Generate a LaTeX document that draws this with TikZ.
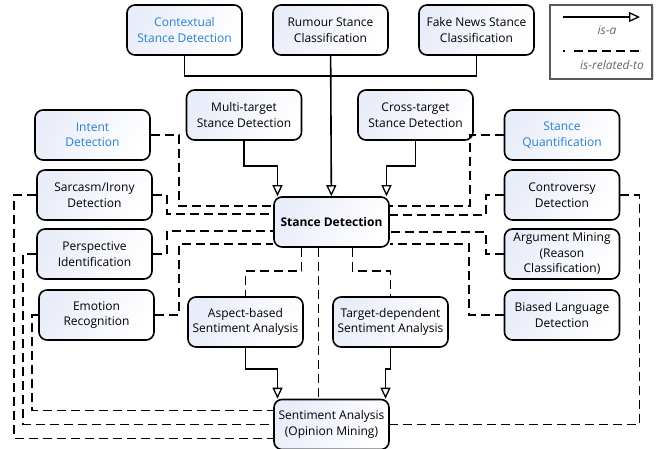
\documentclass[tikz,border=0pt]{standalone}
\usepackage{fontspec}
\setmainfont{Open Sans}
\usetikzlibrary{positioning,arrows.meta,calc,shadows}
\definecolor{taskblue}{RGB}{40,128,205}
\definecolor{boxfill}{RGB}{233,237,249}
\tikzset{every picture/.style={x=1pt,y=-1pt,line width=1.6pt}}
\tikzset{task/.style={draw,rounded corners=8pt,minimum width=115pt,minimum height=50pt,
    inner sep=1pt,align=center,font=\fontsize{12}{15.5}\selectfont,
    left color=boxfill,right color=white,shading angle=60}}
\tikzset{is a/.style={-{Triangle[open,length=11pt,width=10pt,line width=1.3pt]}}}
\tikzset{related/.style={dash pattern=on 9pt off 5pt}}
\tikzset{legend text/.style={text=black!60,font=\fontsize{12}{13}\selectfont\itshape}}

\begin{document}
\begin{tikzpicture}
  \useasboundingbox (0,0) rectangle (656,449);
  % top row
  \node[task,text=taskblue] (ctx) at (184.5,30) {Contextual\\Stance Detection};
  \node[task] (rumour) at (330.5,30) {Rumour Stance\\Classification};
  \node[task] (fakenews) at (476.5,30) {Fake News Stance\\Classification};
  % legend
  \node[draw=black!65,line width=1.6pt,fill=white,minimum width=102pt,minimum height=74pt,
    drop shadow={shadow xshift=1.5pt,shadow yshift=-1.5pt,opacity=0.25}] (legend) at (601,42) {};
  \coordinate (isaA) at (563,17);
  \coordinate (isaB) at (640,17);
  \draw[is a,line width=1.3pt] (isaA) -- (isaB);
  \node[legend text] (isalabel) at (607,30) {is-a};
  \coordinate (relA) at (563,51);
  \coordinate (relB) at (640,51);
  \draw[line width=1.3pt,dash pattern=on 1.5pt off 9pt on 9pt off 5pt on 9pt off 5pt on 9pt off 5pt on 9pt off 5pt on 9pt] (relA) -- (relB);
  \node[legend text] (rellabel) at (612,65) {is-related-to};
  % middle
  \node[task] (multi) at (244,115) {Multi-target\\Stance Detection};
  \node[task] (cross) at (415.5,115) {Cross-target\\Stance Detection};
  \node[task,text=taskblue] (intent) at (92.5,135) {Intent\\Detection};
  \node[task,text=taskblue] (quant) at (562,135) {Stance\\Quantification};
  \node[task] (sarcasm) at (94.5,195) {Sarcasm/Irony\\Detection};
  \node[task] (controv) at (562,195) {Controversy\\Detection};
  \node[task,font=\fontsize{12}{15.5}\selectfont\bfseries] (sd) at (331.5,222) {Stance Detection};
  \node[task] (persp) at (94.5,254) {Perspective\\Identification};
  \node[task] (argmin) at (562,254) {Argument Mining\\(Reason\\Classification)};
  \node[task] (emotion) at (96.5,315) {Emotion\\Recognition};
  \node[task] (aspect) at (245.5,322) {Aspect-based\\Sentiment Analysis};
  \node[task] (targetdep) at (390.5,322) {Target-dependent\\Sentiment Analysis};
  \node[task] (biased) at (562,315) {Biased Language\\Detection};
  \node[task] (sa) at (331.5,424.5) {Sentiment Analysis\\(Opinion Mining)};

  % is-a
  \draw (ctx.south) -- ++(0,20) -| (fakenews.south);
  \draw[is a] (rumour) -- (sd);
  \draw[is a] (multi.south) -- ++(0,25) -| ([xshift=-54pt]sd.north);
  \draw[is a] (cross.south) -- ++(0,25) -| ([xshift=55pt]sd.north);
  \draw[is a] (aspect.south) -- ++(0,21) -| ([xshift=-54pt]sa.north);
  \draw[is a] (targetdep.south) -- ++(0,21) -| ([xshift=54pt]sa.north);

  % is-related-to, left
  \draw[related] (intent.east) -- ++(28,0) |- ([yshift=16pt]sd.west);
  \draw[related] (sarcasm.east) -- ++(14,0) |- ([yshift=8pt]sd.west);
  \draw[related] (persp.east) -- ++(14,0) |- ([yshift=-9pt]sd.west);
  \draw[related] (emotion.east) -- ++(24,0) |- ([yshift=-22pt]sd.west);
  \draw[related] (sarcasm.west) -- ++(-22,0) |- ([yshift=-14pt]sa.west);
  \draw[related] (persp.west) -- ++(-13,0) |- (sa.west);
  \draw[related] (emotion.west) -- ++(-6,0) |- ([yshift=14pt]sa.west);
  % is-related-to, right
  \draw[related] (quant.west) -- ++(-34,0) |- ([yshift=16pt]sd.east);
  \draw[related] (controv.west) -- ++(-18,0) |- ([yshift=7pt]sd.east);
  \draw[related] (argmin.west) -- ++(-18,0) |- ([yshift=-10pt]sd.east);
  \draw[related] (biased.west) -- ++(-35,0) |- ([yshift=-22pt]sd.east);
  \draw[related] (controv.east) -- ++(19,0) |- (sa.east);
  % is-related-to, below
  \draw[related] ([xshift=-30pt]sd.south) -- ++(0,23) -| (aspect.north);
  \draw[related] ([xshift=-13pt]sd.south) -- ([xshift=-13pt]sa.north);
  \draw[related] ([xshift=21pt]sd.south) -- ++(0,23) -| (targetdep.north);
\end{tikzpicture}
\end{document}
